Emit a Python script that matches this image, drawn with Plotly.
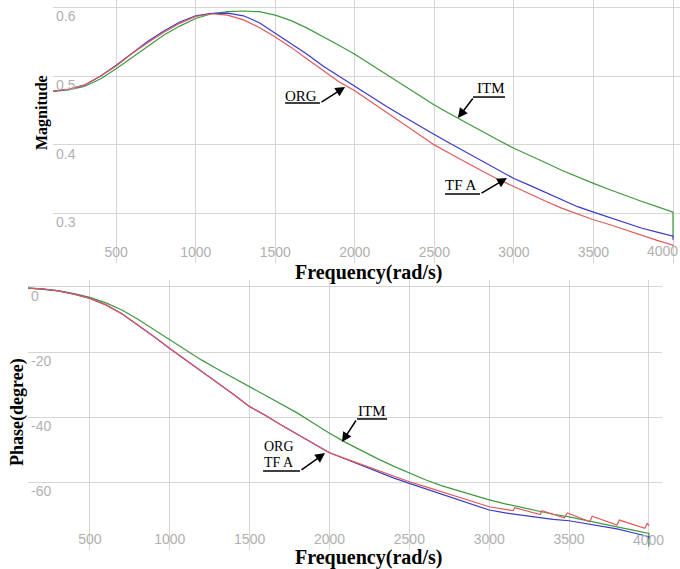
import plotly.graph_objects as go

# ---------------- data ----------------
freq = [100, 200, 300, 400, 500, 600, 700, 800, 900, 1000,
        1100, 1200, 1300, 1400, 1500, 1600, 1700, 1800, 1900, 2000,
        2100, 2200, 2300, 2400, 2500, 2600, 2700, 2800, 2900, 3000,
        3100, 3200, 3300, 3400, 3500, 3600, 3700, 3800, 3900, 4000]

mag_freq = freq + [4000]
mag_org = [.478, .481, .487, .500, .515, .533, .549, .564, .577, .587,
           .591, .589, .582, .571, .557, .542, .525, .508, .492, .479,
           .463, .447, .431, .415, .400, .387, .374, .362, .350, .339,
           .328, .318, .308, .299, .291, .284, .276, .268, .261, .254, .252]
mag_tfa = [.478, .481, .487, .500, .516, .534, .551, .566, .579, .588,
           .5915, .592, .588, .578, .563, .548, .532, .515, .500, .486,
           .471, .456, .442, .428, .415, .402, .389, .376, .363, .351,
           .341, .331, .320, .310, .302, .294, .286, .279, .273, .267, .262]
mag_itm = [.478, .480, .485, .496, .511, .527, .544, .560, .573, .584,
           .591, .594, .595, .594, .589, .581, .570, .558, .545, .532,
           .517, .502, .487, .472, .458, .445, .432, .419, .407, .395,
           .385, .374, .363, .353, .344, .335, .326, .318, .310, .302, .266]

ph_freq = freq + [4000]
ph_tfa = [-0.3, -0.6, -1.2, -2.2, -3.5, -5.5, -8.2, -11.6, -15.2, -18.9,
          -22.4, -25.9, -29.4, -33.1, -36.8, -39.5, -42.5, -45.4, -48.2, -51.0,
          -52.9, -54.9, -56.8, -58.7, -60.4, -62.0, -63.6, -65.2, -67.0, -68.6,
          -69.5, -70.2, -71.0, -71.5, -71.9, -72.7, -73.6, -74.4, -75.6, -76.8, -77.6]
ph_itm = [-0.3, -0.6, -1.1, -2.0, -3.2, -4.9, -7.1, -9.9, -13.0, -16.3,
          -19.3, -22.5, -25.3, -28.0, -30.7, -33.4, -36.0, -38.8, -41.9, -45.0,
          -47.8, -50.4, -52.8, -55.1, -57.3, -59.3, -61.1, -62.6, -64.1, -65.5,
          -66.7, -67.8, -68.9, -69.9, -70.7, -71.8, -72.9, -73.8, -74.8, -75.8, -79.8]
ph_org_freq = [100, 200, 300, 400, 500, 600, 700, 800, 900, 1000,
               1100, 1200, 1300, 1400, 1500, 1600, 1700, 1800, 1900, 2000,
               2100, 2200, 2300, 2400, 2500, 2600, 2700, 2800, 2900, 3000,
               3150, 3160, 3320, 3330, 3470, 3490, 3630, 3645, 3800, 3815,
               3975, 3990, 4000]
ph_org = [-0.3, -0.6, -1.2, -2.2, -3.5, -5.5, -8.2, -11.6, -15.2, -18.9,
          -22.4, -25.9, -29.4, -33.1, -36.8, -39.5, -42.5, -45.4, -48.2, -51.0,
          -52.8, -54.6, -56.4, -58.2, -59.9, -61.4, -62.9, -64.6, -66.0, -67.6,
          -68.8, -67.9, -70.0, -68.8, -71.0, -69.5, -72.2, -70.5, -73.2, -71.7,
          -74.2, -72.6, -73.5]

mag_ticks = [0.3, 0.4, 0.5, 0.6]
mag_ticktext = ["0.3", "0.4", "0.5", "0.6"]
ph_ticks = [0, -20, -40, -60, -80]
ph_ticktext = ["0", "-20", "-40", "-60", ""]
f_ticks = [500, 1000, 1500, 2000, 2500, 3000, 3500, 4000]
f_ticktext = ["500", "1000", "1500", "2000", "2500", "3000", "3500", "4000"]

RED = "#e05a5a"
BLUE = "#3a3ac8"
GREEN = "#3f9a3f"

W, H = 680, 569

fig = go.Figure()
fig.add_trace(go.Scatter(x=mag_freq, y=mag_itm, mode="lines", line=dict(color=GREEN, width=1.2), xaxis="x", yaxis="y"))
fig.add_trace(go.Scatter(x=mag_freq, y=mag_tfa, mode="lines", line=dict(color=BLUE, width=1.2), xaxis="x", yaxis="y"))
fig.add_trace(go.Scatter(x=mag_freq, y=mag_org, mode="lines", line=dict(color=RED, width=1.2), xaxis="x", yaxis="y"))
fig.add_trace(go.Scatter(x=ph_freq, y=ph_itm, mode="lines", line=dict(color=GREEN, width=1.2), xaxis="x2", yaxis="y2"))
fig.add_trace(go.Scatter(x=ph_freq, y=ph_tfa, mode="lines", line=dict(color=BLUE, width=1.2), xaxis="x2", yaxis="y2"))
fig.add_trace(go.Scatter(x=ph_org_freq, y=ph_org, mode="lines", line=dict(color=RED, width=1.2), xaxis="x2", yaxis="y2"))

grid = "#d6d6d6"
tickfont = dict(family="Liberation Sans, Arial", size=14, color="#b0b0b0")

common_x = dict(tickvals=f_ticks, ticktext=f_ticktext, showgrid=True, gridcolor=grid, gridwidth=1.3,
                zeroline=False, showline=False, ticks="", ticklabelposition="inside", tickfont=tickfont)
common_y = dict(showgrid=True, gridcolor=grid, gridwidth=1.3, zeroline=False, showline=False,
                ticks="", ticklabelposition="inside", tickfont=tickfont, ticklabelshift=9)

fig.update_layout(
    width=W, height=H, margin=dict(l=0, r=0, t=0, b=0),
    paper_bgcolor="white", plot_bgcolor="white", showlegend=False,
    xaxis=dict(domain=[53 / W, 1.0], range=[103, 4044], anchor="y", **common_x),
    yaxis=dict(domain=[1 - 263 / H, 1.0], range=[0.228, 0.611], tickvals=mag_ticks,
               ticktext=mag_ticktext, anchor="x", **common_y),
    xaxis2=dict(domain=[28 / W, 662 / W], range=[112, 4082], anchor="y2", **common_x),
    yaxis2=dict(domain=[1 - 550 / H, 1 - 280 / H], range=[-80.9, 2.15], tickvals=ph_ticks,
                ticktext=ph_ticktext, anchor="x2", **common_y),
)

SERIF = "Liberation Serif, Times New Roman"

ann = []
# edge tick labels that the inside-label overflow rule would hide
ann.append(dict(text=f_ticktext[-1], x=1.0, y=1 - 251 / H, xref="paper", yref="paper",
                xanchor="right", yanchor="middle", showarrow=False, font=tickfont))
ann.append(dict(text=f_ticktext[-1], x=f_ticks[-1], y=1 - 540 / H, xref="x2", yref="paper",
                xanchor="center", yanchor="middle", showarrow=False, font=tickfont))
# axis titles
ann.append(dict(text="<b>Frequency(rad/s)</b>", x=368 / W, y=1 - 272 / H, xref="paper", yref="paper",
                xanchor="center", yanchor="middle", showarrow=False,
                font=dict(family=SERIF, size=20, color="black")))
ann.append(dict(text="<b>Frequency(rad/s)</b>", x=368 / W, y=1 - 557 / H, xref="paper", yref="paper",
                xanchor="center", yanchor="middle", showarrow=False,
                font=dict(family=SERIF, size=20, color="black")))
ann.append(dict(text="<b>Magnitude</b>", x=42 / W, y=1 - 113 / H, xref="paper", yref="paper",
                xanchor="center", yanchor="middle", showarrow=False, textangle=-90,
                font=dict(family=SERIF, size=16, color="black")))
ann.append(dict(text="<b>Phase(degree)</b>", x=17 / W, y=1 - 412 / H, xref="paper", yref="paper",
                xanchor="center", yanchor="middle", showarrow=False, textangle=-90,
                font=dict(family=SERIF, size=18, color="black")))

shapes = []


def text_at(text, tx, ty, xr, yr, size=15):
    ann.append(dict(text=text, x=tx, y=ty, xref=xr, yref=yr, showarrow=False,
                    font=dict(family=SERIF, size=size, color="black"),
                    xanchor="center", yanchor="middle"))


def pointer(u0, u1, uy, tail_x, head_x, head_y, xr, yr):
    shapes.append(dict(type="line", x0=u0, x1=u1, y0=uy, y1=uy, xref=xr, yref=yr,
                       line=dict(color="black", width=1.5)))
    ann.append(dict(text="", x=head_x, y=head_y, ax=tail_x, ay=uy, xref=xr, yref=yr,
                    axref=xr, ayref=yr, showarrow=True, arrowhead=2, arrowsize=1.3,
                    arrowwidth=1.5, arrowcolor="black"))


# top chart labels
text_at("ORG", 1662, 0.4712, "x", "y")
pointer(1562, 1781, 0.461, 1781, 1939, 0.4843, "x", "y")
text_at("ITM", 2856, 0.4828, "x", "y")
pointer(2743, 2944, 0.4697, 2749, 2648, 0.4392, "x", "y")
text_at("TF A", 2667, 0.3416, "x", "y")
pointer(2567, 2787, 0.3285, 2787, 2956, 0.3518, "x", "y")
# bottom chart labels
text_at("ITM", 2266, -38.15, "x2", "y2")
pointer(2172, 2360, -40.6, 2172, 2078, -47.7, "x2", "y2")
text_at("ORG", 1684, -49.2, "x2", "y2", size=14)
text_at("TF A", 1684, -54.1, "x2", "y2", size=14)
pointer(1584, 1815, -56.6, 1815, 1972, -51.1, "x2", "y2")

fig.update_layout(annotations=ann, shapes=shapes)

fig.write_html("out.html")
